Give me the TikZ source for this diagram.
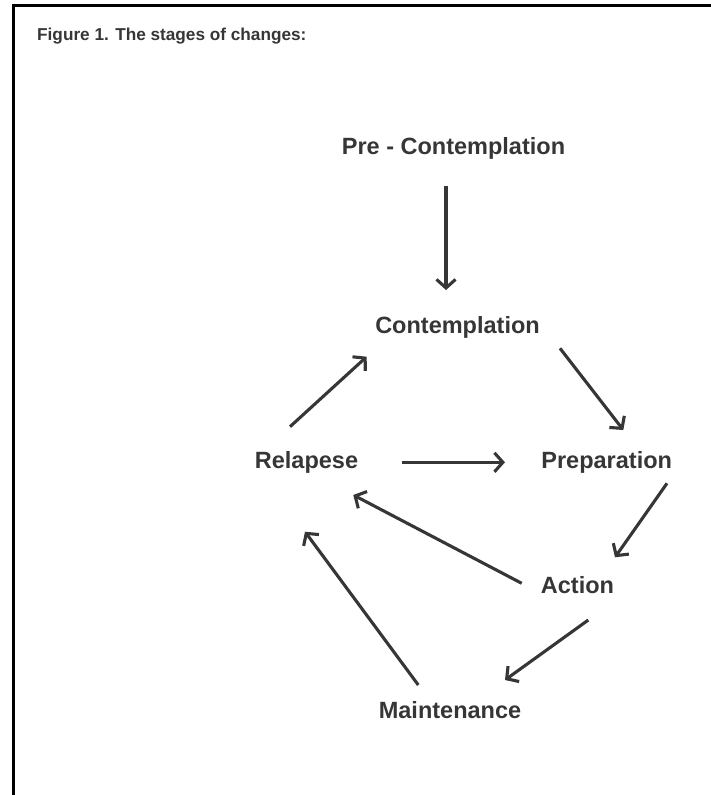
\documentclass[tikz,border=0pt]{standalone}
\usepackage{fontspec}
\setmainfont{Liberation Sans}
\usetikzlibrary{arrows.meta,calc}
\definecolor{ink}{HTML}{363636}
\tikzset{
  stage/.style={inner sep=0pt, anchor=base, text=ink, font=\bfseries\fontsize{23.5}{28}\selectfont},
  titletext/.style={inner sep=0pt, anchor=base west, text=ink, font=\bfseries\fontsize{17.2}{20}\selectfont},
  arr/.style={draw=ink, line width=3.1pt, -{Straight Barb[length=8.5pt,width=19pt,line width=3.1pt]}},
  frame/.style={draw=black, line width=2.4pt}
}
\begin{document}
\begin{tikzpicture}[x=1pt,y=-1pt]
\useasboundingbox (0,0) rectangle (711,795);
\draw[frame] (13.3,795) -- (13.3,5.5) -- (711,5.5);
\node[titletext] (title) at (37,40) {Figure 1. The stages of changes:};
\node[stage] (pre)  at (453.5,154) {Pre - Contemplation};
\node[stage] (con)  at (457.5,333) {Contemplation};
\node[stage] (rel)  at (306.5,468) {Relapese};
\node[stage] (prep) at (606.7,468) {Preparation};
\node[stage] (act)  at (577.5,593) {Action};
\node[stage] (main) at (450,718)   {Maintenance};
\draw[arr] ($(pre.base)+(-7.5,32)$) -- ($(con.base)+(-11.5,-43)$);
\draw[arr] ($(con.base)+(102.5,15.3)$) -- ($(prep.base)+(16.6,-38)$);
\draw[arr] ($(rel.base)+(-16.5,-41.3)$) -- ($(con.base)+(-90.8,23.7)$);
\draw[arr] ($(rel.base)+(95.2,-5.7)$) -- ($(prep.base)+(-101.7,-5.7)$);
\draw[arr] ($(prep.base)+(60.3,15.3)$) -- ($(act.base)+(37.5,-35.7)$);
\draw[arr] ($(act.base)+(-55.8,-9.7)$) -- ($(rel.base)+(46.8,27)$);
\draw[arr] ($(act.base)+(10.8,27)$) -- ($(main.base)+(55,-38)$);
\draw[arr] ($(main.base)+(-31.7,-33)$) -- ($(rel.base)+(-1.5,63.7)$);
\end{tikzpicture}
\end{document}
